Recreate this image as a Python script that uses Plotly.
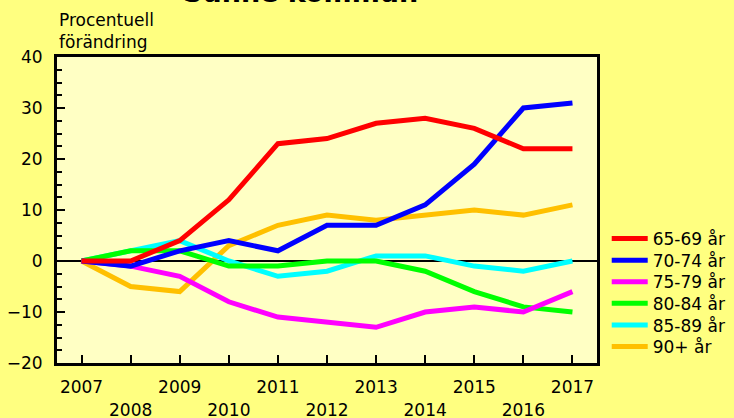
import plotly.graph_objects as go

years = [2007, 2008, 2009, 2010, 2011, 2012, 2013, 2014, 2015, 2016, 2017]
tick_labels = ["2007", "<br>2008", "2009", "<br>2010", "2011", "<br>2012", "2013",
               "<br>2014", "2015", "<br>2016", "2017"]

series_names = ["65-69 år", "70-74 år", "75-79 år", "80-84 år", "85-89 år", "90+ år"]
s_65_69 = [0, 0, 4, 12, 23, 24, 27, 28, 26, 22, 22]
s_70_74 = [0, -1, 2, 4, 2, 7, 7, 11, 19, 30, 31]
s_75_79 = [0, -1, -3, -8, -11, -12, -13, -10, -9, -10, -6]
s_80_84 = [0, 2, 2, -1, -1, 0, 0, -2, -6, -9, -10]
s_85_89 = [0, 2, 4, 0, -3, -2, 1, 1, -1, -2, 0]
s_90 = [0, -5, -6, 3, 7, 9, 8, 9, 10, 9, 11]
series_values = [s_65_69, s_70_74, s_75_79, s_80_84, s_85_89, s_90]
colors = ["#FF0000", "#0000FF", "#FF00FF", "#00FF00", "#00FFFF", "#FFC000"]

# plot area geometry (pixels)
M_L, M_R, M_T, M_B = 57, 137, 57, 55
W, H = 734, 418
plot_h = H - M_T - M_B
legend_row0, legend_step = 239, 21.6

fig = go.Figure()
legend_layouts = {}
for i in reversed(range(len(series_names))):
    lname = "legend" if i == 0 else f"legend{i + 1}"
    fig.add_trace(go.Scatter(
        x=years, y=series_values[i], name=series_names[i], mode="lines",
        line=dict(color=colors[i], width=5), legend=lname,
    ))
    yc = legend_row0 + legend_step * i
    legend_layouts[lname] = dict(
        x=1.018, y=(H - M_B - yc) / plot_h, xanchor="left", yanchor="middle",
        bgcolor="rgba(0,0,0,0)", font=dict(size=17), itemwidth=36,
    )

font_family = "DejaVu Sans"
fig.update_layout(
    width=W, height=H,
    margin=dict(l=M_L, r=M_R, t=M_T, b=M_B, autoexpand=False),
    paper_bgcolor="#FFFF80",
    plot_bgcolor="#FFFFC4",
    font=dict(family=font_family, size=17, color="black"),
    showlegend=True,
    xaxis=dict(range=[2006.5, 2017.5], tickvals=years, ticktext=tick_labels,
               ticks="inside", ticklen=8, tickwidth=2, tickcolor="black",
               showline=True, linecolor="black", linewidth=3, mirror=True,
               showgrid=False, zeroline=False, tickangle=0, automargin=False,
               ticklabelstandoff=7, tickfont=dict(size=17)),
    yaxis=dict(range=[-20, 40], dtick=10, ticks="inside", ticklen=8, tickwidth=2,
               tickcolor="black", showline=True, linecolor="black", linewidth=3,
               mirror=True, showgrid=False, zeroline=True, zerolinecolor="black",
               zerolinewidth=2, tickfont=dict(size=17), ticklabelstandoff=8,
               automargin=False,
               minor=dict(dtick=2.5, ticks="inside", ticklen=5, tickwidth=2,
                          tickcolor="black", showgrid=False)),
    annotations=[
        dict(text="<b>Sunne kommun</b>", xref="paper", yref="paper",
             x=0.45, y=1.0, yshift=65, xanchor="center", yanchor="middle",
             showarrow=False, font=dict(size=27)),
        dict(text="Procentuell<br>förändring", xref="paper", yref="paper",
             x=0, y=1, yshift=3, xanchor="left", yanchor="bottom", align="left",
             showarrow=False, font=dict(size=17)),
    ],
    **legend_layouts,
)

fig.write_html("out.html", config={"displayModeBar": False, "staticPlot": True},
               post_script="document.body.style.margin='0';")
